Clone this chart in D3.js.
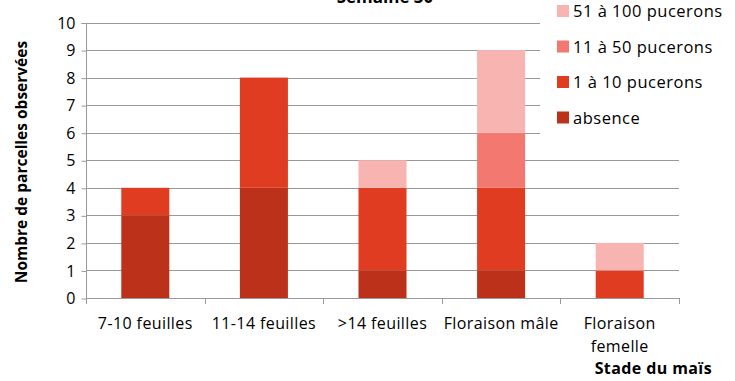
<!DOCTYPE html>
<html>
<head>
<meta charset="utf-8">
<script src="https://cdn.jsdelivr.net/npm/d3@7"></script>
<style>
  body { margin: 0; background: #fff; }
  text { font-family: "Open Sans", sans-serif; fill: #000; }
</style>
</head>
<body>
<div class="chart"></div>
<script>
// Data
const stages = ["7-10 feuilles", "11-14 feuilles", ">14 feuilles", "Floraison mâle", "Floraison femelle"];
const seriesNames = ["absence", "1 à 10 pucerons", "11 à 50 pucerons", "51 à 100 pucerons"];
const absence = [3, 4, 1, 1, 0];
const low = [1, 4, 3, 3, 1];
const mid = [0, 0, 0, 2, 0];
const high = [0, 0, 1, 3, 1];
const yTicks = [0, 1, 2, 3, 4, 5, 6, 7, 8, 9, 10];
const colors = ["#bc3119", "#e03c22", "#f27870", "#f7b4b1"];

const width = 735, height = 381;
const plot = { left: 86, right: 679, top: 22.5, bottom: 298 };

const svg = d3.select(".chart")
    .append("svg")
    .attr("width", width)
    .attr("height", height);

const table = stages.map((s, i) => ({
    stage: s,
    "absence": absence[i],
    "1 à 10 pucerons": low[i],
    "11 à 50 pucerons": mid[i],
    "51 à 100 pucerons": high[i]
}));
const stacked = d3.stack().keys(seriesNames)(table);

const xScale = d3.scaleBand()
    .domain(stages)
    .range([plot.left, plot.right])
    .paddingInner(0.595)
    .paddingOuter(0.2975);
const yScale = d3.scaleLinear()
    .domain([0, 10])
    .range([plot.bottom, plot.top]);

// Gridlines
svg.append("g")
    .selectAll("line")
    .data(yTicks)
    .join("line")
    .attr("x1", plot.left)
    .attr("x2", plot.right)
    .attr("y1", d => Math.round(yScale(d)) + 0.5)
    .attr("y2", d => Math.round(yScale(d)) + 0.5)
    .attr("stroke", "#999")
    .attr("stroke-width", 1);

// Bars
svg.append("g")
    .selectAll("g")
    .data(stacked)
    .join("g")
    .attr("fill", (d, i) => colors[i])
    .selectAll("rect")
    .data(d => d)
    .join("rect")
    .attr("x", d => xScale(d.data.stage))
    .attr("width", xScale.bandwidth())
    .attr("y", d => yScale(d[1]))
    .attr("height", d => yScale(d[0]) - yScale(d[1]));

// Y axis
const yAxis = d3.axisLeft(yScale)
    .tickValues(yTicks)
    .tickSize(5)
    .tickPadding(6);
const yG = svg.append("g")
    .attr("transform", "translate(" + (plot.left + 0.5) + ",0.5)")
    .call(yAxis);
yG.select(".domain").attr("stroke", "#999").attr("d", "M-5," + Math.round(plot.top) + "H0V" + plot.bottom);
yG.selectAll(".tick line").attr("stroke", "#999");
yG.selectAll(".tick text")
    .style("font-family", "Open Sans, sans-serif")
    .style("font-size", "16px")
    .attr("fill", "#000");

// X axis (ticks at category boundaries)
const bounds = stages.map(s => xScale(s) - xScale.step() * xScale.paddingOuter()).concat([plot.right]);
const xG = svg.append("g");
xG.append("line")
    .attr("x1", plot.left)
    .attr("x2", plot.right)
    .attr("y1", plot.bottom + 0.5)
    .attr("y2", plot.bottom + 0.5)
    .attr("stroke", "#999");
xG.selectAll(".xtick")
    .data(bounds)
    .join("line")
    .attr("class", "xtick")
    .attr("x1", d => Math.round(d) + 0.5)
    .attr("x2", d => Math.round(d) + 0.5)
    .attr("y1", plot.bottom)
    .attr("y2", plot.bottom + 6)
    .attr("stroke", "#999");

const xLabels = xG.selectAll(".xlabel")
    .data(stages)
    .join("text")
    .attr("class", "xlabel")
    .attr("text-anchor", "middle")
    .style("font-size", "16px")
    .style("letter-spacing", "0.4px");
xLabels.each(function (d) {
    const cx = xScale(d) + xScale.bandwidth() / 2;
    const lines = d === "Floraison femelle" ? ["Floraison", "femelle"] : [d];
    d3.select(this).selectAll("tspan")
        .data(lines)
        .join("tspan")
        .attr("x", cx)
        .attr("y", (l, i) => 329 + i * 23)
        .text(l => l);
});

// Axis titles
svg.append("text")
    .attr("transform", "rotate(-90)")
    .attr("x", -162)
    .attr("y", 27)
    .attr("text-anchor", "middle")
    .style("font-size", "15.5px")
    .style("font-weight", "bold")
    .text("Nombre de parcelles observées");

svg.append("text")
    .attr("x", 712)
    .attr("y", 374)
    .attr("text-anchor", "end")
    .style("font-size", "16px")
    .style("font-weight", "bold")
    .style("letter-spacing", "0.4px")
    .text("Stade du maïs");

// Title (cut off at the top, as in the original)
svg.append("text")
    .attr("x", 385)
    .attr("y", 3)
    .attr("text-anchor", "middle")
    .style("font-size", "17px")
    .style("font-weight", "bold")
    .text("Semaine 30");

// Legend with white background
const legend = svg.append("g");
legend.append("rect")
    .attr("x", 540)
    .attr("y", 0)
    .attr("width", 195)
    .attr("height", 136)
    .attr("fill", "#fff");
const legendOrder = seriesNames.slice().reverse();
const legendItems = legend.selectAll(".legend-item")
    .data(legendOrder)
    .join("g")
    .attr("class", "legend-item")
    .attr("transform", (d, i) => "translate(557," + (11 + i * 35.5) + ")");
legendItems.append("rect")
    .attr("x", 0)
    .attr("y", -6)
    .attr("width", 12)
    .attr("height", 12)
    .attr("fill", d => colors[seriesNames.indexOf(d)]);
legendItems.append("text")
    .attr("x", 16)
    .attr("y", 6)
    .style("font-size", "16.5px")
    .style("letter-spacing", "0.5px")
    .text(d => d);
</script>
</body>
</html>
